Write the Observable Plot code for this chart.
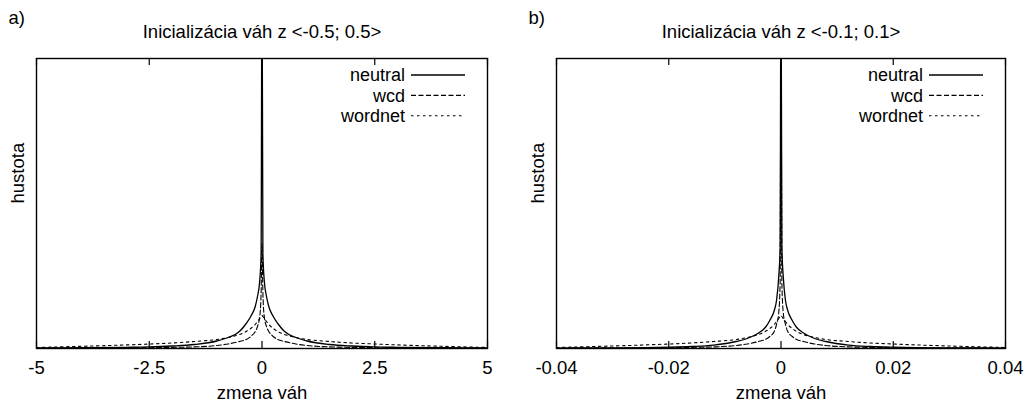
<!DOCTYPE html>
<html><head><meta charset="utf-8">
<script src="https://cdn.jsdelivr.net/npm/d3@7"></script>
<script src="https://cdn.jsdelivr.net/npm/@observablehq/plot@0.6"></script>
<style>
body{margin:0;background:#fff;}
#wrap{display:flex;width:1025px;height:403px;}
svg{display:block;}
</style>
</head><body><div id="wrap"></div>
<script>
const seriesNames = ["neutral", "wcd", "wordnet"];
const dashes = {neutral: null, wcd: "5,2.5", wordnet: "2.5,3.5"};

// Panel a: init <-0.5; 0.5>
const titleA = "Inicializácia váh z <-0.5; 0.5>";
const ticksA = [-5, -2.5, 0, 2.5, 5];
const xA = [-5,-4,-3,-2.5,-2,-1.5,-1,-0.75,-0.5,-0.35,-0.25,-0.15,-0.1,-0.05,-0.02,0,0.02,0.05,0.1,0.15,0.25,0.35,0.5,0.75,1,1.5,2,2.5,3,4,5];
const neutralA = [0.005,0.008,0.012,0.016,0.025,0.04,0.075,0.11,0.17,0.25,0.32,0.42,0.52,0.68,0.95,4.0,0.95,0.68,0.52,0.42,0.32,0.25,0.17,0.11,0.075,0.04,0.025,0.016,0.012,0.008,0.005];
const wcdA = [0.003,0.004,0.006,0.008,0.011,0.016,0.03,0.045,0.07,0.09,0.12,0.17,0.22,0.32,0.55,1.05,0.55,0.32,0.22,0.17,0.12,0.09,0.07,0.045,0.03,0.016,0.011,0.008,0.006,0.004,0.003];
const wordnetA = [0.01,0.022,0.036,0.045,0.055,0.07,0.09,0.11,0.14,0.17,0.20,0.24,0.27,0.30,0.32,0.33,0.32,0.30,0.27,0.24,0.20,0.17,0.14,0.11,0.09,0.07,0.055,0.045,0.036,0.022,0.01];

// Panel b: init <-0.1; 0.1>
const titleB = "Inicializácia váh z <-0.1; 0.1>";
const ticksB = [-0.04, -0.02, 0, 0.02, 0.04];
const xB = [-0.04,-0.032,-0.024,-0.02,-0.016,-0.012,-0.008,-0.006,-0.004,-0.0028,-0.002,-0.0012,-0.0008,-0.0004,-0.00016,0,0.00016,0.0004,0.0008,0.0012,0.002,0.0028,0.004,0.006,0.008,0.012,0.016,0.02,0.024,0.032,0.04];
const neutralB = [0.004,0.006,0.009,0.013,0.02,0.034,0.07,0.10,0.155,0.21,0.28,0.38,0.48,0.72,1.0,4.0,1.0,0.72,0.48,0.38,0.28,0.21,0.155,0.10,0.07,0.034,0.02,0.013,0.009,0.006,0.004];
const wcdB = [0.003,0.004,0.006,0.008,0.011,0.016,0.03,0.045,0.07,0.09,0.12,0.17,0.24,0.36,0.65,3.5,0.65,0.36,0.24,0.17,0.12,0.09,0.07,0.045,0.03,0.016,0.011,0.008,0.006,0.004,0.003];
const wordnetB = [0.01,0.022,0.036,0.045,0.055,0.07,0.09,0.11,0.14,0.17,0.20,0.24,0.27,0.30,0.32,0.33,0.32,0.30,0.27,0.24,0.20,0.17,0.14,0.11,0.09,0.07,0.055,0.045,0.036,0.022,0.01];

const FONT = "'Liberation Sans', Arial, Helvetica, sans-serif";
const FS = 18.5;
const LFS = 18;

function makePanel({label, title, ticks, xs, series, width, marginLeft, marginRight}) {
  const marginTop = 58, marginBottom = 55, height = 403;
  const frameH = height - marginTop - marginBottom;
  const rows = [];
  seriesNames.forEach((s, k) => xs.forEach((x, i) => rows.push({x, y: series[k][i], s})));
  const marks = [];
  for (const s of seriesNames) {
    marks.push(Plot.line(rows.filter(d => d.s === s), {
      x: "x", y: "y", stroke: "black", strokeWidth: s === "neutral" ? 1.3 : 1.1,
      strokeDasharray: dashes[s], curve: "monotone-x", clip: true
    }));
  }
  marks.push(
    Plot.ruleX(ticks, {x: d => d, insetTop: frameH - 7, stroke: "black", strokeWidth: 1.2}),
    Plot.ruleX(ticks, {x: d => d, insetBottom: frameH - 7, stroke: "black", strokeWidth: 1.2}),
    Plot.frame({stroke: "black", strokeWidth: 1.4}),
    Plot.axisX(ticks, {tickSize: 0, tickPadding: 12, tickFormat: d => String(d), fontSize: FS, label: null}),
    Plot.text([title], {frameAnchor: "top", dy: -26, fontSize: FS, lineAnchor: "middle"}),
    Plot.text(["zmena váh"], {frameAnchor: "bottom", dy: 45, fontSize: FS, lineAnchor: "middle"}),
    Plot.text(["hustota"], {frameAnchor: "left", dx: -18, rotate: -90, fontSize: FS, lineAnchor: "middle"}),
    Plot.text([label], {frameAnchor: "top-left", dx: -28, dy: -40, fontSize: FS, textAnchor: "start", lineAnchor: "middle"})
  );
  const svg = Plot.plot({
    width, height, marginTop, marginBottom, marginLeft, marginRight,
    style: {fontFamily: FONT, fontSize: FS + "px", color: "black", background: "white"},
    x: {domain: [ticks[0], ticks[ticks.length - 1]], axis: null},
    y: {domain: [0, 2.9], axis: null},
    marks
  });
  // legend inside top-right corner of the frame
  const fr = width - marginRight;
  const g = d3.select(svg).append("g").attr("font-family", FONT).attr("font-size", LFS);
  const ys = [75, 95.4, 115.8];
  seriesNames.forEach((s, k) => {
    g.append("text").attr("x", fr - 82).attr("y", ys[k]).attr("dy", "0.35em")
      .attr("text-anchor", "end").attr("fill", "black").text(s);
    const ln = g.append("line").attr("x1", fr - 76).attr("x2", fr - 22)
      .attr("y1", ys[k]).attr("y2", ys[k]).attr("stroke", "black")
      .attr("stroke-width", s === "neutral" ? 1.3 : 1.1);
    if (dashes[s]) ln.attr("stroke-dasharray", dashes[s]);
  });
  return svg;
}

const wrap = document.getElementById("wrap");
wrap.appendChild(makePanel({label: "a)", title: titleA, ticks: ticksA, xs: xA,
  series: [neutralA, wcdA, wordnetA], width: 512, marginLeft: 36, marginRight: 25}));
wrap.appendChild(makePanel({label: "b)", title: titleB, ticks: ticksB, xs: xB,
  series: [neutralB, wcdB, wordnetB], width: 513, marginLeft: 44, marginRight: 20}));
</script>
</body></html>
